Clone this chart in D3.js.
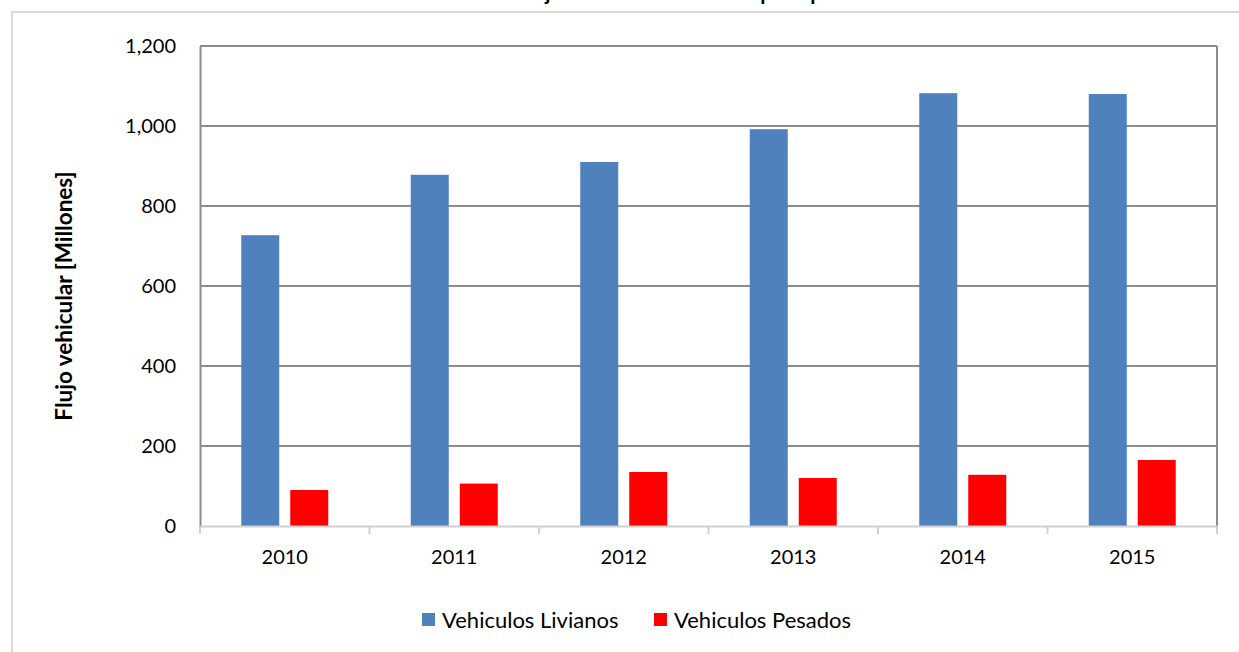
<!DOCTYPE html>
<html>
<head>
<meta charset="utf-8">
<script src="https://cdn.jsdelivr.net/npm/d3@7"></script>
<style>
  body { margin: 0; background: #fff; }
  svg { display: block; font-family: Lato, "Open Sans", sans-serif; }
</style>
</head>
<body>
<svg id="chart" width="1239" height="652"></svg>
<script>
const years = ['2010', '2011', '2012', '2013', '2014', '2015'];
const livianos = [727, 878, 910, 992, 1082, 1080];
const pesados = [90, 106, 135, 120, 128, 165];
const seriesNames = ['Vehiculos Livianos', 'Vehiculos Pesados'];
const seriesColors = ['#4f81bd', '#ff0000'];
const yTicks = [0, 200, 400, 600, 800, 1000, 1200];

const FONT = 'Lato, "Open Sans", sans-serif';
const svg = d3.select('#chart');
const m = {left: 200, right: 22, top: 46, bottom: 126};
const w = 1239 - m.left - m.right;
const h = 652 - m.top - m.bottom;

// outer frame of the chart area
svg.append('rect')
    .attr('x', 12).attr('y', 12)
    .attr('width', 1240).attr('height', 660)
    .attr('fill', 'none').attr('stroke', '#d9d9d9').attr('stroke-width', 2);

// title, cut at the top edge as in the picture
svg.append('text')
    .attr('x', 731).attr('y', 0)
    .attr('text-anchor', 'middle')
    .style('font-size', '21px').style('font-weight', 'bold')
    .text('Flujo vehicular total anual por tipo de vehículo');

const g = svg.append('g').attr('transform', `translate(${m.left},${m.top})`);

const x = d3.scaleBand().domain(years).range([0, w]);
const y = d3.scaleLinear().domain([0, 1200]).range([h, 0]);

// gridlines
g.selectAll('.grid').data(yTicks.slice(1))
    .enter().append('line')
    .attr('x1', 0).attr('x2', w)
    .attr('y1', d => y(d)).attr('y2', d => y(d))
    .attr('stroke', '#8c8c8c').attr('stroke-width', 2);

// right border
g.append('line')
    .attr('x1', w).attr('x2', w).attr('y1', 0).attr('y2', h)
    .attr('stroke', '#8c8c8c').attr('stroke-width', 2);

// y axis
const yAxis = g.append('g')
    .call(d3.axisLeft(y).tickValues(yTicks).tickSize(0).tickPadding(24).tickFormat(d3.format(',')))
    .attr('font-family', FONT);
yAxis.select('.domain').attr('stroke', '#8c8c8c').attr('stroke-width', 2);
yAxis.selectAll('text').style('font-size', '20px').attr('fill', '#000');

// bars
const barW = 38, gap = 11;
const series = [livianos, pesados];
series.forEach((vals, si) => {
    g.selectAll('.bar' + si).data(vals)
        .enter().append('rect')
        .attr('x', (d, i) => x(years[i]) + x.bandwidth() / 2 - barW - gap / 2 + si * (barW + gap))
        .attr('y', d => y(d))
        .attr('width', barW)
        .attr('height', d => h - y(d))
        .attr('fill', seriesColors[si]);
});

// x axis
const xAxis = g.append('g').attr('transform', `translate(0,${h})`)
    .call(d3.axisBottom(x).tickSize(0).tickPadding(24))
    .attr('font-family', FONT);
xAxis.select('.domain').attr('stroke', '#d0d0d0').attr('stroke-width', 2);
xAxis.selectAll('text').style('font-size', '20px').attr('fill', '#000');
xAxis.selectAll('.sep').data(d3.range(years.length + 1))
    .enter().append('line')
    .attr('x1', i => i * x.step()).attr('x2', i => i * x.step())
    .attr('y1', 0).attr('y2', 8)
    .attr('stroke', '#d0d0d0').attr('stroke-width', 2);

// y axis title
svg.append('text')
    .attr('transform', `translate(72,${m.top + h / 2 + 10}) rotate(-90)`)
    .attr('text-anchor', 'middle')
    .style('font-size', '22.5px').style('font-weight', 'bold')
    .text('Flujo vehicular [Millones]');

// legend
const legX = [422, 654];
const leg = svg.append('g').attr('transform', 'translate(0,620)');
seriesNames.forEach((name, i) => {
    leg.append('rect')
        .attr('x', legX[i]).attr('y', -7)
        .attr('width', 13).attr('height', 13)
        .attr('fill', seriesColors[i]);
    leg.append('text')
        .attr('x', legX[i] + 20).attr('y', 0)
        .attr('dy', '0.35em')
        .style('font-size', '22px')
        .text(name);
});
</script>
</body>
</html>
